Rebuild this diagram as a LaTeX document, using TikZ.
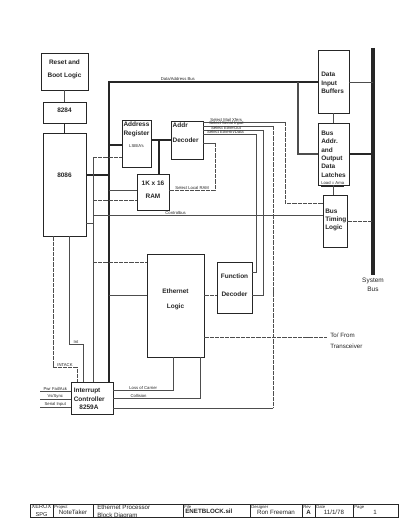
\documentclass[tikz,border=0pt]{standalone}
\usepackage{fontspec}
\setmainfont{Liberation Sans}
\usepackage{tikz}
\usetikzlibrary{positioning, fit, calc}
\definecolor{ink}{HTML}{262626}
\definecolor{scan}{HTML}{4D4D4D}
\tikzset{
  box/.style    = {rectangle, draw=ink, line width=0.6pt, inner sep=0pt,
                   align=center, text=ink,
                   font=\fontsize{4.6}{6}\selectfont\bfseries},
  lbl/.style    = {inner sep=0pt, align=center, text=ink,
                   font=\fontsize{4.6}{6}\selectfont\bfseries},
  tag/.style    = {inner sep=0.4pt, text=ink, font=\fontsize{3}{3.5}\selectfont},
  ttl/.style    = {inner sep=0pt, align=left, text=ink, font=\fontsize{4.4}{5.6}\selectfont},
  wire/.style   = {draw=scan, line width=0.5pt},
  dwire/.style  = {draw=scan, line width=0.5pt, dash pattern=on 3pt off 0.7pt},
  bus/.style    = {draw=ink, line width=1.1pt},
  sysbus/.style = {draw=ink, line width=2.4pt},
}

\begin{document}
\begin{tikzpicture}[x=0.025cm, y=-0.025cm]

  \path[use as bounding box, fill=white] (0,0) rectangle (400,518);

  % ----- processor side -----
  \node[box, fit={(41,53) (88,90)}] (reset) {Reset and\\[3.2pt]Boot Logic};
  \node[box, fit={(43,102) (86,123)}] (clk) {8284};
  \node[box, fit={(43,133) (86,236)}] (cpu) {};
  \node[lbl] (cput) at ([yshift=6.7pt]cpu.center) {8086};

  \node[box, fit={(122,120) (151,167)}] (areg) {};
  \node[lbl, below=1.6pt of areg.north] (aregt)
       {Address\\Register\\[3pt]{\fontsize{3}{3.5}\selectfont\mdseries LSB/A's}};
  \node[box, fit={(171,121) (203,159)}] (adec) {};
  \node[lbl, align=left, anchor=north west] (adect) at ([xshift=1.3pt,yshift=-1.4pt]adec.north west)
       {Addr\\[4.6pt]Decoder};
  \node[box, fit={(137,174) (169,210)}] (ram) {1K x 16\\[3.2pt]RAM};

  \node[box, fit={(147,254) (204,357)}] (eth) {};
  \node[lbl] (etht) at ([yshift=4.6pt]eth.center) {Ethernet\\[4.7pt]Logic};
  \node[box, fit={(217,262) (252,313)}] (fdec) {Function\\[6.8pt]Decoder};

  \node[box, fit={(71,382) (113,414)}] (intc) {};
  \node[lbl, align=left, anchor=west] (intct) at (73.5,399)
       {Interrupt\\Controller\\\hspace*{4pt}8259A};

  % ----- bus side -----
  \node[box, fit={(318,50) (349,113)}] (dib) {};
  \node[lbl, align=left, anchor=west] (dibt) at (321,83) {Data\\Input\\Buffers};
  \node[box, fit={(318,123) (349,185)}] (bal) {};
  \node[lbl, align=left, anchor=north west] (balt) at (321,130.5)
       {Bus\\Addr.\\and\\Output\\Data\\Latches\\[-1pt]{\fontsize{3}{3.5}\selectfont\mdseries\underline{Load = Ama}}};
  \node[box, fit={(323,195) (347,247)}] (btl) {};
  \node[lbl, align=left, anchor=west] (btlt) at (325,220) {Bus\\Timing\\Logic};

  \coordinate (sbT) at (373,48);
  \coordinate (sbB) at (373,275);
  \draw[sysbus] (sbT) -- (sbB);
  \node[lbl, font=\fontsize{4.6}{6}\selectfont, below=2pt of sbB] (sbl) {System\\Bus};

  % ----- data/address bus -----
  \coordinate (busT) at (109,82);
  \draw[bus] (intc.north -| busT) -- (busT)
        -- node[tag, above, pos=0.33] {Data/Address Bus} (dib.west |- busT);
  \coordinate (tap) at (298,82);
  \draw[wire, line width=0.8pt] (tap) |- (bal.west);
  \draw[wire] (dib.east |- busT) -- (sbT |- busT);
  \draw[bus] (bal.east) -- (sbT |- bal.east);
  \draw[wire] (dib.south) -- (bal.north);
  \draw[wire] (bal.south) -- (bal.south |- btl.north);
  \coordinate (bt) at (373,221);
  \draw[dwire] (btl.east |- bt) -- (bt);

  \draw[wire] (reset.south) -- (clk.north);
  \draw[bus] (clk.south) -- (cpu.north);

  \coordinate (dcpu) at (109,175);
  \draw[bus] (cpu.east |- dcpu) -- (dcpu);
  \coordinate (dareg) at (109,145);
  \draw[bus] (dareg) -- (areg.west |- dareg);
  \draw[bus] (areg.east |- adec.west) -- (adec.west);
  \coordinate (dram) at (159,140);
  \draw[bus] (dram) -- (ram.north -| dram);
  \coordinate (dramw) at (109,190);
  \draw[wire, line width=0.7pt] (dramw) -- (ram.west |- dramw);
  \coordinate (deth) at (109,295);
  \draw[wire] (deth) -- (eth.west |- deth);

  % ----- control lines -----
  \coordinate (ctlT) at (93,157);
  \draw[wire] (ctlT) -- (intc.north -| ctlT);
  \draw[dwire] (ctlT) -- (areg.west |- ctlT);
  \coordinate (dcc) at (93,223);
  \draw[wire] (cpu.east |- dcc) -- (dcc);
  \coordinate (cram) at (93,200);
  \draw[dwire] (cram) -- (ram.west |- cram);
  \coordinate (cbus) at (93,215);
  \draw[wire] (cbus) -- node[tag, above, pos=0.36] {Controlbus} (btl.west |- cbus);
  \coordinate (ceth) at (93,262);
  \draw[dwire] (ceth) -- (eth.west |- ceth);

  % ----- decoder outputs -----
  \coordinate (selr) at (215,143);
  \coordinate (selr2) at (215,190);
  \draw[wire] (adec.east |- selr) -- (selr);
  \draw[dwire] (selr) -- (selr2) -- node[tag, above] {Select Local RAM} (ram.east |- selr2);

  \coordinate (s1) at (285,122);
  \coordinate (s1b) at (285,203);
  \draw[wire] (adec.east |- s1) -- node[tag, above, pos=0.28] {Select Mail Xfers} (s1);
  \draw[dwire] (s1) -- (s1b) -- (btl.west |- s1b);
  \coordinate (s2) at (273,126);
  \coordinate (s2b) at (273,408);
  \draw[wire] (adec.east |- s2) -- node[tag, above, pos=0.33] {Select Serial Input} (s2);
  \draw[dwire] (s2) -- (s2b);
  \draw[wire] (s2b) -- (intc.east |- s2b);
  \coordinate (s3) at (263,130);
  \coordinate (s3b) at (263,295);
  \draw[wire] (adec.east |- s3) -- node[tag, above, pos=0.38] {Select EtherOut} (s3);
  \draw[wire] (s3) -- (s3b) -- (fdec.east |- s3b);
  \coordinate (s4) at (256,134);
  \coordinate (s4b) at (256,272);
  \draw[wire] (adec.east |- s4) -- node[tag, above, pos=0.42] {Select EtherIn/Data} (s4);
  \draw[wire] (s4) -- (s4b) -- (fdec.east |- s4b);

  % ----- ethernet links -----
  \coordinate (ef) at (210,295);
  \draw[dwire] (eth.east |- ef) -- (fdec.west |- ef);
  \node[lbl, align=left, anchor=west, font=\fontsize{4.4}{7.8}\selectfont] (xcvr) at (330,341)
       {To/ From\\Transceiver};
  \coordinate (xc) at (327,337);
  \draw[dwire] (eth.east |- xc) -- (xc);

  % ----- interrupt controller -----
  \coordinate (lc) at (173,390);
  \draw[wire] (intc.east |- lc) -- node[tag, above] {Loss of Carrier} (lc) -- (lc |- eth.south);
  \coordinate (co) at (200,398);
  \draw[wire] (intc.east |- co) -- node[tag, above, pos=0.29] {Collision} (co) -- (co |- eth.south);

  \coordinate (ia) at (53,367);
  \coordinate (ia2) at (77,367);
  \draw[dwire] (cpu.south -| ia) -- (ia) -- node[tag, above] {INTACK} (ia2) -- (ia2 |- intc.north);
  \coordinate (in) at (69,344);
  \coordinate (in2) at (83,344);
  \draw[wire] (cpu.south -| in) -- (in) -- node[tag, above] {Int} (in2) -- (in2 |- intc.north);

  \coordinate (i1) at (40,391);
  \draw[wire] (i1) -- node[tag, above] {Pwr Fail/Ack} (intc.west |- i1);
  \coordinate (i2) at (40,399);
  \draw[wire] (i2) -- node[tag, above] {Vs/Sync} (intc.west |- i2);
  \coordinate (i3) at (40,407);
  \draw[wire] (i3) -- node[tag, above] {Serial Input} (intc.west |- i3);

  % ----- title block -----
  \draw[ink, line width=0.6pt] (30,504) rectangle (398,517);
  \foreach \cx in {53,93,183,250,302,315,353}
    \draw[ink, line width=0.5pt] (\cx,504) -- (\cx,517);
  \node[ttl, align=center, font=\fontsize{4}{5.6}\selectfont] (firm) at (41.5,510.5) {XEROX\\SPG};
  \node[tag, anchor=north west] (projh) at (53.5,504.5) {Project};
  \node[ttl] (proj) at (73,512) {NoteTaker};
  \node[ttl, anchor=west] (title) at (97,512) {Ethernet Processor\\Block Diagram};
  \node[tag, anchor=north west] (fileh) at (183.5,504.5) {File};
  \node[ttl, anchor=west, font=\fontsize{4.4}{5.6}\selectfont\bfseries] (file) at (185,511.5) {ENETBLOCK.sil};
  \node[tag, anchor=north west] (desh) at (250.5,504.5) {Designer};
  \node[ttl] (des) at (276,512) {Ron Freeman};
  \node[tag, anchor=north west] (revh) at (302.5,504.5) {Rev};
  \node[ttl, font=\fontsize{4.4}{5.6}\selectfont\bfseries] (rev) at (308.5,512) {A};
  \node[tag, anchor=north west] (dateh) at (315.5,504.5) {Date};
  \node[ttl] (date) at (334,512) {11/1/78};
  \node[tag, anchor=north west] (pageh) at (353.5,504.5) {Page};
  \node[ttl] (page) at (375,512) {1};

\end{tikzpicture}
\end{document}
